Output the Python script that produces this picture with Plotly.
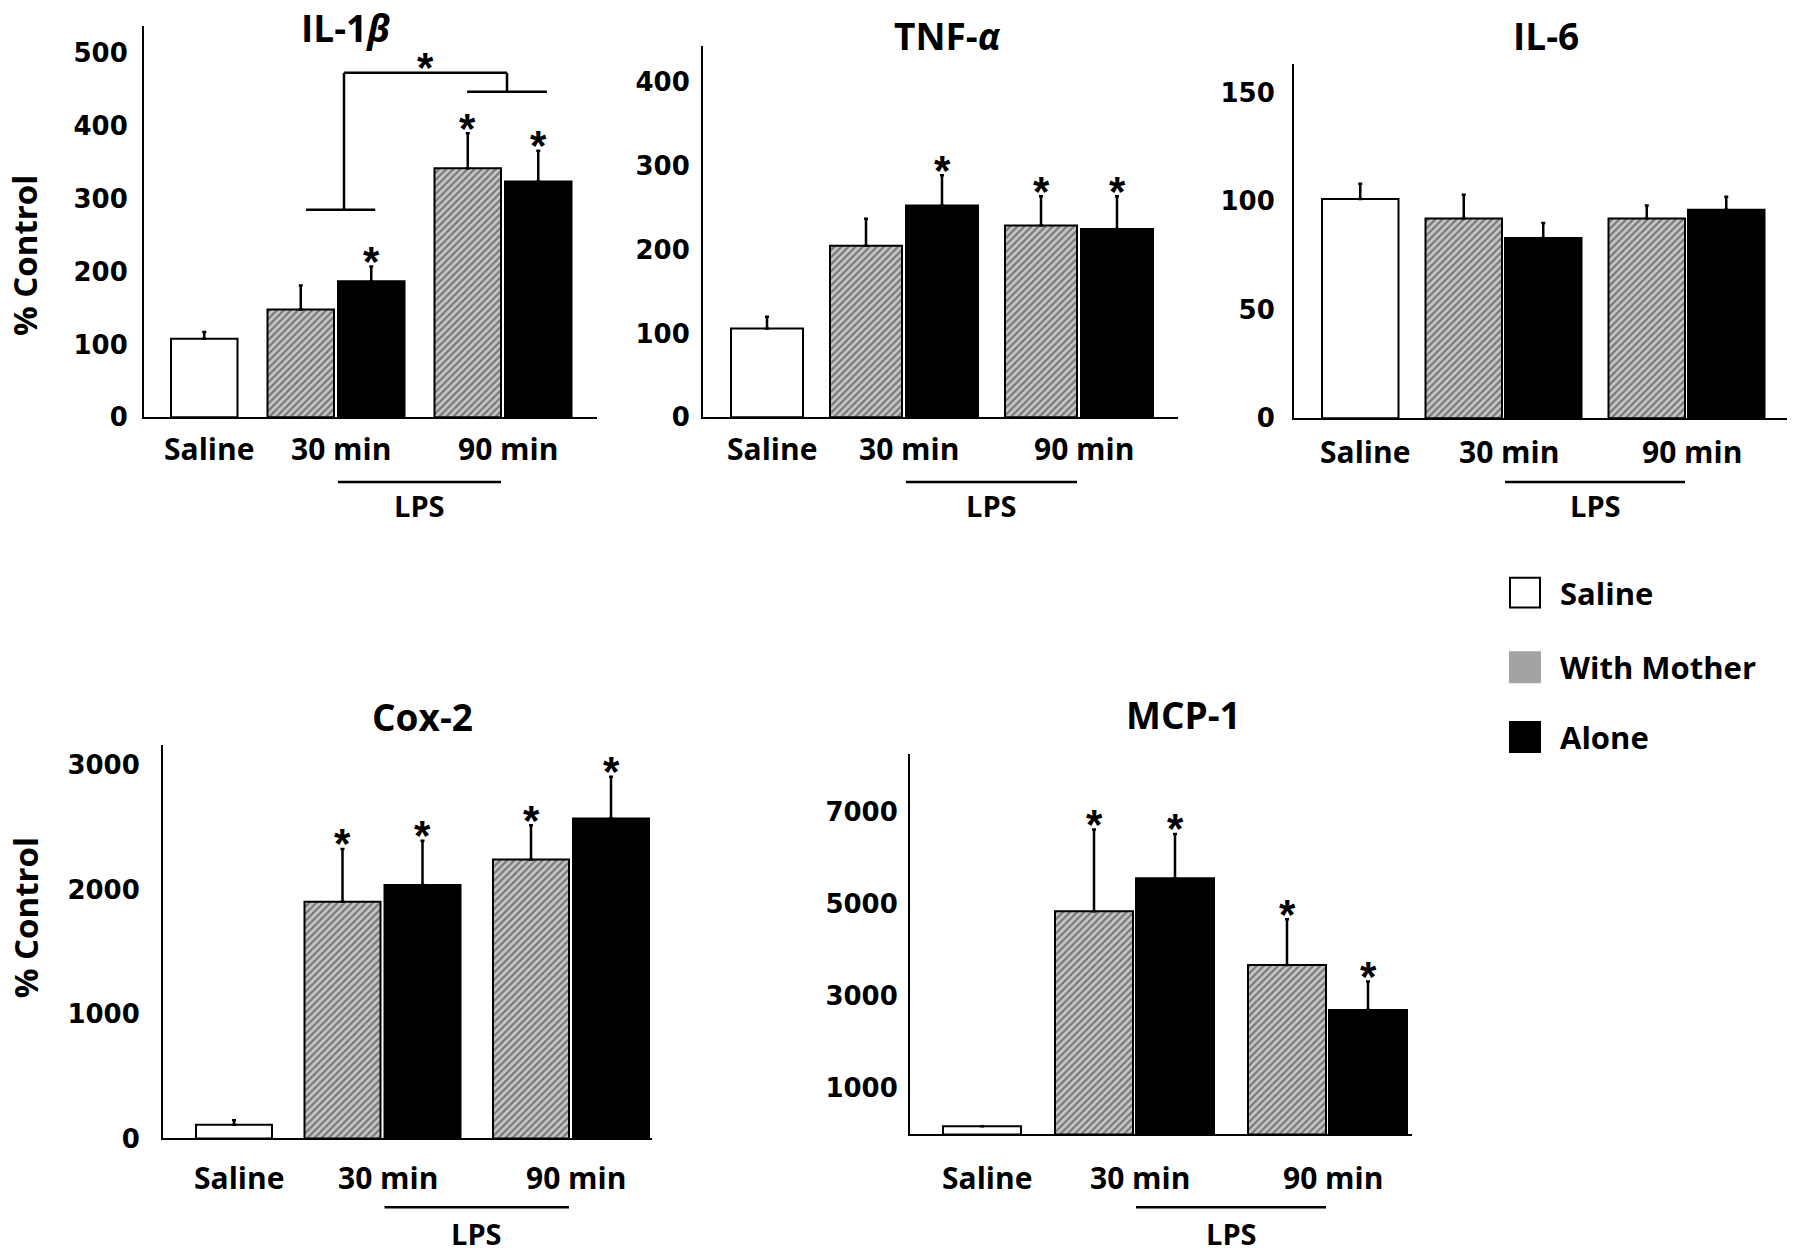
import plotly.graph_objects as go

W, H = 1800, 1259

# ---------------- data ----------------
categories = ["Saline", "30 min", "90 min"]
series = ["Saline", "With Mother", "Alone"]
panel_titles = ["IL-1<i>β</i>", "TNF-<i>α</i>", "IL-6", "Cox-2", "MCP-1"]
y_title = "% Control"
lps_label = "LPS"

# bar order: Saline, With Mother 30 min, Alone 30 min, With Mother 90 min, Alone 90 min
il1b_mean = [108, 148, 187, 342, 324]
il1b_sem = [9, 33, 20, 48, 42]
il1b_sig = [0, 0, 1, 1, 1]
il1b_bracket = [285, 473, 447]   # left leg bottom, top, right leg bottom

tnf_mean = [106, 205, 253, 229, 225]
tnf_sem = [14, 32, 36, 35, 39]
tnf_sig = [0, 0, 1, 1, 1]

il6_mean = [101, 92, 83, 92, 96]
il6_sem = [7, 11, 7, 6, 6]
il6_sig = [0, 0, 0, 0, 0]

cox2_mean = [110, 1900, 2035, 2240, 2570]
cox2_sem = [35, 425, 355, 275, 335]
cox2_sig = [0, 1, 1, 1, 1]

mcp1_mean = [180, 4840, 5555, 3675, 2700]
mcp1_sem = [0, 1770, 960, 990, 615]
mcp1_sig = [0, 1, 1, 1, 1]

il1b_ticks = [0, 100, 200, 300, 400, 500]
tnf_ticks = [0, 100, 200, 300, 400]
il6_ticks = [0, 50, 100, 150]
cox2_ticks = [0, 1000, 2000, 3000]
mcp1_ticks = [1000, 3000, 5000, 7000]

panel_data = [
    (il1b_mean, il1b_sem, il1b_sig, il1b_ticks),
    (tnf_mean, tnf_sem, tnf_sig, tnf_ticks),
    (il6_mean, il6_sem, il6_sig, il6_ticks),
    (cox2_mean, cox2_sem, cox2_sig, cox2_ticks),
    (mcp1_mean, mcp1_sem, mcp1_sig, mcp1_ticks),
]

# ---------------- layout geometry (pixels) ----------------
geom = [
    dict(x0=144, x1=597, base=419, top=26, ymax=537.5, L=27, w=66.5, g=4, G=30,
         tx=345, ty=28, lab=450, lps=484, lpst=508, so=9, ytitle=257),
    dict(x0=703, x1=1178, base=419, top=46, ymax=443.6, L=28, w=72, g=4, G=27,
         tx=948, ty=36, lab=450, lps=484, lpst=508, so=6, ytitle=None),
    dict(x0=1294, x1=1787, base=420, top=64, ymax=163.3, L=28, w=76.5, g=3, G=27,
         tx=1546, ty=36, lab=453, lps=484, lpst=508, so=12, ytitle=None),
    dict(x0=163, x1=652, base=1143, top=748, ymax=3160, L=33, w=76, g=4, G=32.5,
         tx=422, ty=719, lab=1182, lps=1212, lpst=1238, so=16, ytitle=922),
    dict(x0=910, x1=1412, base=1139, top=757, ymax=8248, L=33, w=78, g=3, G=34,
         tx=1183, ty=717, lab=1182, lps=1212, lpst=1238, so=5, ytitle=None),
]
YS = 1.008
LABEL_DX = 5

LABEL_FONT = "Open Sans"
TICK_FONT = "DejaVu Sans"
STAR_FONT = "Liberation Sans"
hatch = dict(shape="/", fgcolor="#2a2a2a", bgcolor="#c6c6c6", size=5, solidity=0.45)
fills = {"Saline": dict(color="white"),
         "With Mother": dict(color="#c6c6c6", pattern=hatch),
         "Alone": dict(color="black")}

fig = go.Figure()
annotations = []
shapes = []


def py(p):
    return 1 - p * YS / H


for i, ((mean, sem, sig, ticks), gm) in enumerate(zip(panel_data, geom), start=1):
    xa = "x" if i == 1 else f"x{i}"
    ya = "y" if i == 1 else f"y{i}"
    w, L, g, G = gm["w"], gm["L"], gm["g"], gm["G"]
    lefts = [L]
    lefts.append(lefts[0] + w + G)
    lefts.append(lefts[1] + w + g)
    lefts.append(lefts[2] + w + G)
    lefts.append(lefts[3] + w + g)
    centers = [l + w / 2 for l in lefts]
    group_of = ["Saline", "With Mother", "Alone", "With Mother", "Alone"]
    for s in series:
        idx = [k for k, gname in enumerate(group_of) if gname == s]
        fig.add_trace(go.Bar(
            x=[centers[k] for k in idx], y=[mean[k] for k in idx],
            width=[w] * len(idx), name=s, showlegend=False,
            marker=dict(**fills[s], line=dict(color="black", width=2)),
            error_y=dict(type="data", symmetric=False, array=[sem[k] for k in idx],
                         arrayminus=[0] * len(idx), color="black", thickness=2.5, width=2),
            xaxis=xa, yaxis=ya))
    # significance stars
    for k in range(5):
        if sig[k]:
            annotations.append(dict(x=centers[k], y=mean[k] + sem[k], xref=xa, yref=ya,
                                    text="<b>*</b>", showarrow=False, yanchor="middle", yshift=5,
                                    font=dict(family=STAR_FONT, size=42, color="black")))
    # axes
    fig.layout[f"xaxis{'' if i == 1 else i}"] = dict(
        domain=[gm["x0"] / W, gm["x1"] / W], range=[0, gm["x1"] - gm["x0"]],
        showline=True, linecolor="black", linewidth=2, showgrid=False, zeroline=False,
        showticklabels=False, ticks="", anchor=ya, fixedrange=True)
    fig.layout[f"yaxis{'' if i == 1 else i}"] = dict(
        domain=[py(gm["base"]), py(gm["top"])], range=[0, gm["ymax"]],
        showline=True, linecolor="black", linewidth=2, showgrid=False, zeroline=False,
        ticks="", tickvals=ticks, ticktext=[str(t) for t in ticks], ticklabelstandoff=gm["so"],
        tickfont=dict(family=TICK_FONT, size=26, color="black", weight=700),
        anchor=xa, fixedrange=True)
    # title
    annotations.append(dict(x=gm["tx"] / W, y=py(gm["ty"]), xref="paper", yref="paper",
                            text=panel_titles[i - 1], showarrow=False, xanchor="center",
                            yanchor="middle",
                            font=dict(family=LABEL_FONT, size=37, color="black", weight=700)))
    # category labels
    gcent = [centers[0], (centers[1] + centers[2]) / 2, (centers[3] + centers[4]) / 2]
    for c, lab in zip(gcent, categories):
        annotations.append(dict(x=c + LABEL_DX, y=py(gm["lab"]), xref=xa, yref="paper", text=lab,
                                showarrow=False, xanchor="center", yanchor="middle",
                                font=dict(family=LABEL_FONT, size=30, color="black", weight=700)))
    # LPS line + label
    lx0 = (gm["x0"] + lefts[2]) / W
    lx1 = (gm["x0"] + lefts[3] + w) / W
    shapes.append(dict(type="line", xref="paper", yref="paper", x0=lx0, x1=lx1,
                       y0=py(gm["lps"]), y1=py(gm["lps"]), line=dict(color="black", width=2.5)))
    annotations.append(dict(x=(lx0 + lx1) / 2, y=py(gm["lpst"]), xref="paper", yref="paper",
                            text=lps_label, showarrow=False, xanchor="center", yanchor="middle",
                            font=dict(family=LABEL_FONT, size=29, color="black", weight=700)))
    # y title
    if gm["ytitle"] is not None:
        annotations.append(dict(x=25 / W, y=py(gm["ytitle"]), xref="paper", yref="paper",
                                text=y_title, textangle=-90, showarrow=False,
                                xanchor="center", yanchor="middle",
                                font=dict(family=LABEL_FONT, size=33, color="black", weight=700)))
    # IL-1b bracket
    if i == 1:
        lo_l, hi, lo_r = il1b_bracket
        pl = (centers[1] + centers[2]) / 2 + 8
        pr = (centers[3] + centers[4]) / 2 + 4
        for (xa0, ya0, xa1, ya1) in [(pl, lo_l, pl, hi), (pl, hi, pr, hi), (pr, hi, pr, lo_r),
                                     (pl - 0.57 * w, lo_l, pl + 0.47 * w, lo_l),
                                     (pr - 0.6 * w, lo_r, pr + 0.6 * w, lo_r)]:
            shapes.append(dict(type="line", xref=xa, yref=ya, x0=xa0, y0=ya0, x1=xa1, y1=ya1,
                               line=dict(color="black", width=2.5)))
        annotations.append(dict(x=(pl + pr) / 2, y=hi, xref=xa, yref=ya, text="<b>*</b>",
                                showarrow=False, yanchor="middle", yshift=5,
                                font=dict(family=STAR_FONT, size=42, color="black")))

# legend (drawn)
legend_rows = [("Saline", 595, "white"), ("With Mother", 670, "#a3a3a3"), ("Alone", 740, "black")]
for name, yc, col in legend_rows:
    shapes.append(dict(type="rect", xref="paper", yref="paper", x0=1510 / W, x1=1540 / W,
                       y0=py(yc + 15), y1=py(yc - 15), fillcolor=col,
                       line=dict(color="black" if col != "#a3a3a3" else "#a3a3a3", width=2)))
    annotations.append(dict(x=1558 / W, y=py(yc), xref="paper", yref="paper", text=name,
                            showarrow=False, xanchor="left", yanchor="middle",
                            font=dict(family=LABEL_FONT, size=31, color="black", weight=700)))

fig.update_layout(width=W, height=H, autosize=False, margin=dict(l=0, r=0, t=0, b=0),
                  paper_bgcolor="white", plot_bgcolor="white", barmode="overlay",
                  annotations=annotations, shapes=shapes, showlegend=False)

fig.write_html("out.html", config={"displayModeBar": False},
               post_script="document.body.style.margin='0';document.body.style.overflow='hidden';")
